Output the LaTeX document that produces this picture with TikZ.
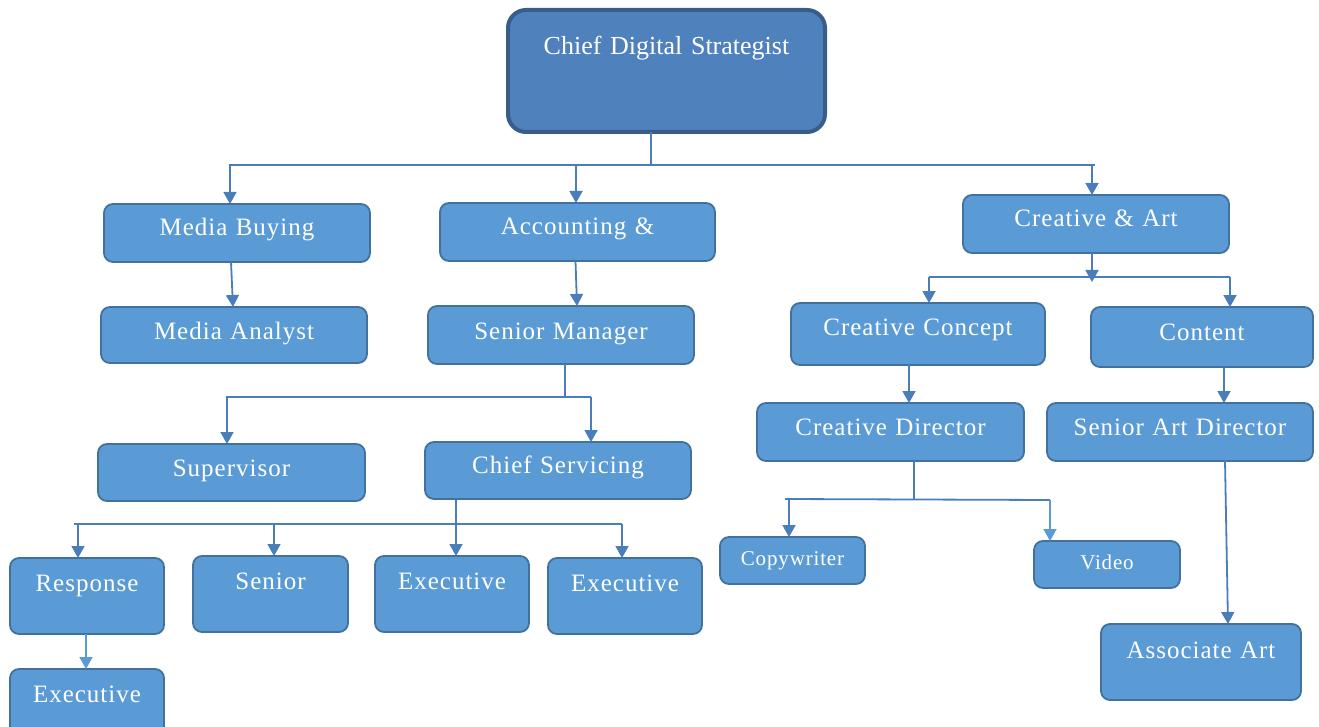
\documentclass[tikz,border=0pt]{standalone}
\usepackage{fontspec}
\setmainfont{Liberation Serif}
\newfontfamily\boxfont[LetterSpace=4]{Liberation Serif}
\usetikzlibrary{arrows.meta}
\definecolor{cfill}{HTML}{5B9BD5}
\definecolor{cedge}{HTML}{41719C}
\definecolor{ctopfill}{HTML}{4F81BD}
\definecolor{ctopedge}{HTML}{385D8A}
\definecolor{cline}{HTML}{4A7EBB}
\definecolor{clight}{HTML}{5B9BD5}
\tikzset{
  every picture/.style={x=1pt, y=-1pt},
  box/.style n args={3}{draw=cedge, fill=cfill, line width=1.8pt, rounded corners=9pt, anchor=north west,
    inner sep=0pt, outer sep=0pt, align=center, text=white, font=\boxfont\fontsize{25}{29}\selectfont,
    text width=#1, text height=#2, text depth=#3},
  small/.style={font=\boxfont\fontsize{21}{24}\selectfont},
  link/.style={draw=cline, line width=1.8pt},
  arrow/.style={link, -{Triangle[length=12pt, width=13pt]}},
}

\begin{document}
\begin{tikzpicture}
  \useasboundingbox (0,0) rectangle (1319,727);

  \node[box={317pt}{45pt}{77pt}, draw=ctopedge, fill=ctopfill, line width=4pt, rounded corners=18pt,
    font=\fontsize{26}{30}\selectfont] (chief) at (508,10) {Chief Digital Strategist};

  % left branches
  \node[box={266pt}{32pt}{26pt}] (mbuy) at (104,204) {Media Buying};
  \node[box={275pt}{32pt}{26pt}] (acct) at (440,203) {Accounting \&};
  \node[box={266pt}{32pt}{24pt}] (mana) at (101,307) {Media Analyst};
  \node[box={266pt}{33pt}{25pt}] (smgr) at (428,306) {Senior Manager};
  \node[box={267pt}{32pt}{25pt}] (sup) at (98,444) {Supervisor};
  \node[box={266pt}{31pt}{26pt}] (csrv) at (425,442) {Chief Servicing};
  \node[box={154pt}{33pt}{43pt}] (resp) at (10,558) {Response};
  \node[box={155pt}{33pt}{43pt}] (sen) at (193,556) {Senior};
  \node[box={154pt}{33pt}{43pt}] (exe1) at (375,556) {Executive};
  \node[box={154pt}{33pt}{43pt}] (exe2) at (548,558) {Executive};
  \node[box={154pt}{33pt}{40pt}] (exe3) at (10,669) {Executive};

  % right branches
  \node[box={266pt}{32pt}{26pt}] (cart) at (963,195) {Creative \& Art};
  \node[box={254pt}{32pt}{30pt}] (ccon) at (791,303) {Creative Concept};
  \node[box={222pt}{33pt}{27pt}] (cont) at (1091,307) {Content};
  \node[box={267pt}{32pt}{26pt}] (cdir) at (757,403) {Creative Director};
  \node[box={266pt}{32pt}{26pt}] (sad) at (1047,403) {Senior Art Director};
  \node[box={145pt}{28pt}{19pt}, small] (copy) at (720,537) {Copywriter};
  \node[box={146pt}{28pt}{19pt}, small] (vid) at (1034,541) {Video};
  \node[box={200pt}{34pt}{42pt}] (assoc) at (1101,624) {Associate Art};

  % top level
  \coordinate (j1) at (651,165);
  \coordinate (j1l) at (229,165);
  \coordinate (j1r) at (1095,165);
  \draw[link] ([xshift=-15.5pt]chief.south) -- (j1);
  \draw[link] (j1l) -- (j1r);
  \draw[arrow] ([xshift=-7pt]mbuy.north |- j1) -- ([xshift=-7pt]mbuy.north);
  \draw[arrow] ([xshift=-1.5pt]acct.north |- j1) -- ([xshift=-1.5pt]acct.north);
  \draw[arrow] ([xshift=-4pt]cart.north |- j1) -- ([xshift=-4pt]cart.north);

  \draw[arrow] ([xshift=-6pt]mbuy.south) -- ([xshift=-1pt]mana.north);
  \draw[arrow] ([xshift=-2pt]acct.south) -- ([xshift=16pt]smgr.north);

  % senior manager
  \coordinate (j2) at (565,397);
  \coordinate (j2l) at (226,397);
  \coordinate (j2r) at (591,397);
  \draw[link] ([xshift=4pt]smgr.south) -- (j2);
  \draw[link] (j2l) -- (j2r);
  \draw[arrow] ([xshift=-4.5pt]sup.north |- j2) -- ([xshift=-4.5pt]sup.north);
  \draw[arrow] ([xshift=33pt]csrv.north |- j2) -- ([xshift=33pt]csrv.north);

  % chief servicing
  \coordinate (j3) at (456,524);
  \coordinate (j3l) at (74,524);
  \coordinate (j3r) at (622,524);
  \draw[link] ([xshift=-102pt]csrv.south) -- (j3);
  \draw[link] (j3l) -- (j3r);
  \draw[arrow] ([xshift=-9pt]resp.north |- j3) -- ([xshift=-9pt]resp.north);
  \draw[arrow] ([xshift=3.5pt]sen.north |- j3) -- ([xshift=3.5pt]sen.north);
  \draw[arrow] ([xshift=4pt]exe1.north |- j3) -- ([xshift=4pt]exe1.north);
  \draw[arrow] ([xshift=-3pt]exe2.north |- j3) -- ([xshift=-3pt]exe2.north);
  \draw[arrow, draw=clight] ([xshift=-1pt]resp.south) -- ([xshift=-1pt]exe3.north);

  % creative & art
  \coordinate (j4) at (1092,282);
  \coordinate (j4l) at (929,277);
  \coordinate (j4r) at (1230,277);
  \draw[arrow] ([xshift=-4pt]cart.south) -- (j4);
  \draw[link] (j4l) -- (j4r);
  \draw[arrow] ([xshift=11pt]ccon.north |- j4l) -- ([xshift=11pt]ccon.north);
  \draw[arrow] ([xshift=28pt]cont.north |- j4l) -- ([xshift=28pt]cont.north);

  \draw[arrow] ([xshift=-9pt]ccon.south) -- ([xshift=18.5pt]cdir.north);
  \draw[arrow] ([xshift=22pt]cont.south) -- ([xshift=44pt]sad.north);

  % creative director
  \coordinate (j5) at (914,499);
  \coordinate (j5l) at (785,499);
  \coordinate (j5r) at (1050,500);
  \draw[link] ([xshift=23.5pt]cdir.south) -- (j5);
  \draw[link] (j5l) -- (j5r);
  \draw[arrow] ([xshift=-3.5pt]copy.north |- j5) -- ([xshift=-3.5pt]copy.north);
  \draw[arrow, draw=clight] ([xshift=-57pt]vid.north |- j5r) -- ([xshift=-57pt]vid.north);

  \draw[arrow] ([xshift=45pt]sad.south) -- ([xshift=27pt]assoc.north);
\end{tikzpicture}
\end{document}
